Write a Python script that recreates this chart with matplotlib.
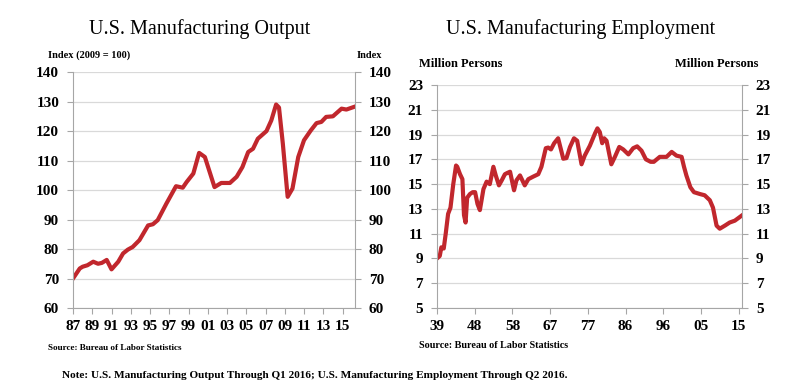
import matplotlib.pyplot as plt

# Manufacturing output index (2009 = 100)
out_year = [1987.0, 1987.7, 1988.0, 1988.5, 1989.1, 1989.6, 1990.0, 1990.5, 1991.0,
            1991.7, 1992.2, 1992.7, 1993.2, 1993.9, 1994.8, 1995.3, 1995.8, 1996.7,
            1997.7, 1998.4, 1998.8, 1999.5, 2000.1, 2000.7, 2001.7, 2002.4, 2003.3,
            2004.0, 2004.6, 2005.2, 2005.7, 2006.2, 2007.1, 2007.6, 2008.1, 2008.4,
            2008.8, 2009.3, 2009.8, 2010.4, 2011.0, 2011.7, 2012.3, 2012.8, 2013.3,
            2014.0, 2014.9, 2015.4, 2016.2]
out_val = [70.0, 73.4, 74.0, 74.5, 75.7, 75.0, 75.3, 76.3, 73.1,
           75.7, 78.5, 79.8, 80.7, 83.0, 88.0, 88.4, 89.8, 95.4,
           101.3, 100.8, 102.7, 105.6, 112.6, 111.2, 101.0, 102.4, 102.4,
           104.5, 107.8, 112.9, 114.0, 117.4, 120.0, 123.6, 129.0, 128.0,
           115.7, 97.7, 100.5, 111.2, 116.9, 120.2, 122.7, 123.1, 124.8,
           125.0, 127.6, 127.3, 128.2]
out_ticks = list(range(1987, 2016, 2))
out_labels = ['87', '89', '91', '93', '95', '97', '99', '01', '03', '05', '07',
              '09', '11', '13', '15']

# Manufacturing employment, million persons
emp_year = [1939.0, 1939.7, 1940.1, 1940.7, 1941.2, 1941.8, 1942.4, 1943.1, 1943.8,
            1944.1, 1944.8, 1945.4, 1945.8, 1946.2, 1946.6, 1947.3, 1948.0, 1948.6,
            1949.2, 1949.8, 1950.7, 1951.5, 1952.3, 1953.2, 1953.8, 1954.6, 1955.3,
            1956.1, 1956.7, 1957.4, 1958.4, 1959.0, 1959.9, 1960.5, 1961.1, 1962.0,
            1963.2, 1964.5, 1965.3, 1966.4, 1967.0, 1967.7, 1968.5, 1969.5, 1970.8,
            1971.6, 1972.5, 1973.5, 1974.3, 1975.4, 1976.2, 1977.5, 1978.8, 1979.4,
            1980.0, 1980.6, 1981.1, 1981.7, 1982.9, 1983.8, 1984.9, 1985.9, 1987.2,
            1988.4, 1989.4, 1990.5, 1991.6, 1992.8, 1993.6, 1995.1, 1996.8, 1998.1,
            1999.3, 2000.6, 2001.2, 2001.8, 2002.8, 2003.7, 2005.2, 2006.4, 2007.7,
            2008.5, 2009.4, 2010.2, 2011.5, 2012.7, 2014.0, 2015.7]
emp_val = [9.0, 9.2, 9.9, 9.8, 11.0, 12.6, 13.1, 15.0, 16.5,
           16.4, 15.8, 15.4, 12.5, 11.9, 13.9, 14.2, 14.35, 14.35,
           13.4, 12.9, 14.6, 15.2, 15.0, 16.4, 15.7, 14.9, 15.3,
           15.8, 15.9, 16.0, 14.5, 15.3, 15.7, 15.3, 14.9, 15.4,
           15.6, 15.8, 16.4, 17.9, 17.95, 17.8, 18.3, 18.7, 17.05,
           17.1, 18.0, 18.7, 18.5, 16.6, 17.3, 18.1, 19.1, 19.5,
           19.2, 18.3, 18.7, 18.5, 16.6, 17.2, 18.0, 17.8, 17.4,
           17.9, 18.05, 17.7, 17.0, 16.8, 16.8, 17.2, 17.2, 17.6,
           17.3, 17.2, 16.4, 15.7, 14.75, 14.35, 14.2, 14.1, 13.7,
           13.1, 11.65, 11.4, 11.65, 11.9, 12.05, 12.45]
emp_ticks = [1939, 1948.5, 1958, 1967.5, 1977, 1986.5, 1996, 2005.5, 2015]
emp_labels = ['39', '48', '58', '67', '77', '86', '96', '05', '15']

red = '#c1272d'
serif = 'Liberation Serif'

fig = plt.figure(figsize=(7.98, 3.88), dpi=100)
ax1 = fig.add_axes([0.0915, 0.2062, 0.3534, 0.608])
ax2 = fig.add_axes([0.5476, 0.2062, 0.3822, 0.5747])


def style(ax, yticks):
	ax.set_yticks(yticks)
	ax.yaxis.grid(True, color='#d9d9d9', lw=0.9)
	ax.set_axisbelow(True)
	for s in ['left', 'right', 'bottom']:
		ax.spines[s].set_color('#a6a6a6')
	ax.spines['top'].set_visible(False)
	ax.tick_params(axis='both', colors='#a6a6a6', length=4, width=0.8,
	               labelcolor='black', labelsize=11)
	ax.tick_params(axis='y', right=True, labelright=True, pad=6)
	ax.tick_params(axis='x', pad=5)
	for lab in ax.get_xticklabels() + ax.get_yticklabels():
		lab.set_fontfamily(serif)
		lab.set_fontweight('bold')


ax1.plot(out_year, out_val, color=red, lw=3, solid_joinstyle='round')
ax1.set_xlim(1987, 2016.3)
ax1.set_ylim(60, 140)
ax1.set_xticks(out_ticks)
ax1.set_xticklabels(out_labels)
style(ax1, range(60, 141, 10))

ax2.plot(emp_year, emp_val, color=red, lw=3, solid_joinstyle='round')
ax2.set_xlim(1939, 2015.8)
ax2.set_ylim(5, 23)
ax2.set_xticks(emp_ticks)
ax2.set_xticklabels(emp_labels)
style(ax2, range(5, 24, 2))

# titles and axis captions
fig.text(200/798, 1-29/388, 'U.S. Manufacturing Output', family=serif, fontsize=14.5,
         ha='center', va='center')
fig.text(581/798, 1-29/388, 'U.S. Manufacturing Employment', family=serif, fontsize=14.5,
         ha='center', va='center')
fig.text(48/798, 1-55/388, 'Index (2009 = 100)', family=serif, weight='bold', fontsize=7.5,
         va='center')
fig.text(382/798, 1-55/388, 'Index', family=serif, weight='bold', fontsize=7.5,
         ha='right', va='center')
fig.text(419/798, 1-64/388, 'Million Persons', family=serif, weight='bold', fontsize=9,
         va='center')
fig.text(758/798, 1-64/388, 'Million Persons', family=serif, weight='bold', fontsize=9,
         ha='right', va='center')
fig.text(48/798, 1-348/388, 'Source: Bureau of Labor Statistics', family=serif,
         weight='bold', fontsize=6.6, va='center')
fig.text(419/798, 1-346/388, 'Source: Bureau of Labor Statistics', family=serif,
         weight='bold', fontsize=7.3, va='center')
fig.text(62/798, 1-375/388,
         'Note: U.S. Manufacturing Output Through Q1 2016; U.S. Manufacturing Employment Through Q2 2016.',
         family=serif, weight='bold', fontsize=8.1, va='center')

fig.savefig('out.png', dpi=100)
